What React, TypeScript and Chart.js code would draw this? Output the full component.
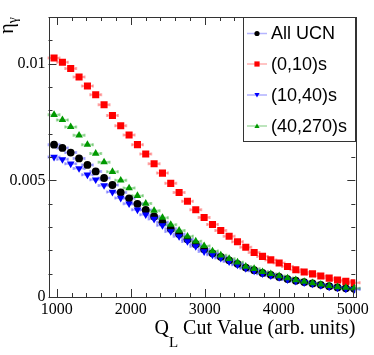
import React, { useEffect, useRef } from 'react';
import { Chart, registerables } from 'chart.js';

Chart.register(...registerables);

// Cut values (x)
const cutValues = [
  964, 1077, 1189, 1302, 1415, 1527, 1640, 1753, 1865, 1978,
  2091, 2203, 2316, 2429, 2541, 2654, 2767, 2879, 2992, 3105,
  3217, 3330, 3443, 3555, 3668, 3781, 3893, 4006, 4119, 4231,
  4344, 4457, 4569, 4682, 4795, 4907, 5020,
];

const allUCN = [
  0.00653, 0.00639, 0.00619, 0.00594, 0.00566, 0.00538, 0.00510, 0.00480, 0.00448, 0.00423,
  0.00399, 0.00373, 0.00345, 0.00320, 0.00293, 0.00270, 0.00247, 0.00226, 0.00205, 0.00187,
  0.00172, 0.00157, 0.00142, 0.00126, 0.00115, 0.00103, 0.00095, 0.00086, 0.00077, 0.00070,
  0.00064, 0.00058, 0.00052, 0.00046, 0.00041, 0.00037, 0.00035,
];

const range0to10 = [
  0.01024, 0.01006, 0.00979, 0.00943, 0.00904, 0.00867, 0.00824, 0.00778, 0.00734, 0.00694,
  0.00653, 0.00613, 0.00571, 0.00531, 0.00487, 0.00448, 0.00410, 0.00374, 0.00341, 0.00311,
  0.00285, 0.00260, 0.00237, 0.00213, 0.00191, 0.00174, 0.00159, 0.00146, 0.00131, 0.00117,
  0.00107, 0.00099, 0.00090, 0.00081, 0.00073, 0.00067, 0.00061,
];

const range10to40 = [
  0.00600, 0.00590, 0.00571, 0.00551, 0.00524, 0.00503, 0.00478, 0.00450, 0.00424, 0.00400,
  0.00374, 0.00353, 0.00334, 0.00307, 0.00281, 0.00260, 0.00238, 0.00217, 0.00195, 0.00181,
  0.00167, 0.00152, 0.00138, 0.00123, 0.00112, 0.00100, 0.00092, 0.00084, 0.00075, 0.00068,
  0.00062, 0.00056, 0.00050, 0.00044, 0.00039, 0.00035, 0.00033,
];

const range40to270 = [
  0.00781, 0.00759, 0.00729, 0.00693, 0.00653, 0.00615, 0.00578, 0.00537, 0.00500, 0.00467,
  0.00434, 0.00401, 0.00370, 0.00340, 0.00310, 0.00285, 0.00260, 0.00239, 0.00219, 0.00197,
  0.00179, 0.00164, 0.00149, 0.00131, 0.00121, 0.00108, 0.00099, 0.00090, 0.00081, 0.00073,
  0.00066, 0.00060, 0.00054, 0.00048, 0.00043, 0.00040, 0.00038,
];

const seriesLabels = ['All UCN', '(0,10)s', '(10,40)s', '(40,270)s'];
const xTickValues = [1000, 2000, 3000, 4000, 5000];
const yTickValues = [0, 0.005, 0.01];

const X_MIN = 889;
const X_MAX = 5035;
const Y_MIN = 0;
const Y_MAX = 0.012;

type Kind = 'circle' | 'rect' | 'tdown' | 'tup';

const seriesStyle: { kind: Kind; color: string; err: string }[] = [
  { kind: 'circle', color: '#000000', err: 'rgba(90,90,255,0.45)' },
  { kind: 'rect', color: '#ff0000', err: 'rgba(255,80,80,0.45)' },
  { kind: 'tdown', color: '#0000ff', err: 'rgba(80,80,255,0.45)' },
  { kind: 'tup', color: '#009900', err: 'rgba(60,180,60,0.45)' },
];

function drawMarker(ctx: CanvasRenderingContext2D, kind: Kind, x: number, y: number, s: number, color: string) {
  ctx.save();
  ctx.fillStyle = color;
  ctx.beginPath();
  if (kind === 'circle') {
    ctx.arc(x, y, s, 0, Math.PI * 2);
  } else if (kind === 'rect') {
    ctx.rect(x - s, y - s, 2 * s, 2 * s);
  } else if (kind === 'tup') {
    ctx.moveTo(x, y - s);
    ctx.lineTo(x + s, y + s * 0.75);
    ctx.lineTo(x - s, y + s * 0.75);
    ctx.closePath();
  } else {
    ctx.moveTo(x, y + s);
    ctx.lineTo(x + s, y - s * 0.75);
    ctx.lineTo(x - s, y - s * 0.75);
    ctx.closePath();
  }
  ctx.fill();
  ctx.restore();
}

const decorPlugin = {
  id: 'decor',
  beforeDatasetsDraw(chart: any) {
    const ctx: CanvasRenderingContext2D = chart.ctx;
    chart.data.datasets.forEach((ds: any, i: number) => {
      const meta = chart.getDatasetMeta(i);
      ctx.save();
      ctx.strokeStyle = seriesStyle[i].err;
      ctx.lineWidth = 2;
      meta.data.forEach((pt: any) => {
        ctx.beginPath();
        ctx.moveTo(pt.x - 5.5, pt.y);
        ctx.lineTo(pt.x + 5.5, pt.y);
        ctx.stroke();
        ctx.beginPath();
        ctx.moveTo(pt.x - 5.5, pt.y - 1.5);
        ctx.lineTo(pt.x - 5.5, pt.y + 1.5);
        ctx.moveTo(pt.x + 5.5, pt.y - 1.5);
        ctx.lineTo(pt.x + 5.5, pt.y + 1.5);
        ctx.stroke();
      });
      ctx.restore();
    });
  },
  afterDraw(chart: any) {
    const ctx: CanvasRenderingContext2D = chart.ctx;
    const { left, right, top, bottom } = chart.chartArea;
    const xs = chart.scales.x;
    const ys = chart.scales.y;
    ctx.save();
    // frame
    ctx.strokeStyle = '#333';
    ctx.lineWidth = 1;
    ctx.strokeRect(Math.round(left) + 0.5, Math.round(top) + 0.5, Math.round(right - left), Math.round(bottom - top));
    // x ticks
    ctx.beginPath();
    for (let v = 1000; v <= 5000; v += 200) {
      const px = Math.round(xs.getPixelForValue(v)) + 0.5;
      const len = v % 1000 === 0 ? 8 : 4;
      ctx.moveTo(px, bottom);
      ctx.lineTo(px, bottom - len);
      ctx.moveTo(px, top);
      ctx.lineTo(px, top + len);
    }
    // y ticks
    for (let k = 0; k <= 12; k++) {
      const v = k * 0.001;
      const py = Math.round(ys.getPixelForValue(v)) + 0.5;
      const len = k % 5 === 0 ? 8 : 4;
      ctx.moveTo(left, py);
      ctx.lineTo(left + len, py);
      ctx.moveTo(right, py);
      ctx.lineTo(right - len, py);
    }
    ctx.stroke();

    // x title: Q_L Cut Value (arb. units)
    ctx.fillStyle = '#000';
    ctx.textBaseline = 'alphabetic';
    ctx.textAlign = 'left';
    const mainFont = '20px "Liberation Serif"';
    const subFont = '15px "Liberation Serif"';
    ctx.font = mainFont;
    const wQ = ctx.measureText('Q').width;
    const rest = ' Cut Value (arb. units)';
    const wRest = ctx.measureText(rest).width;
    ctx.font = subFont;
    const wL = ctx.measureText('L').width;
    const baseY = 334;
    const xStart = right - (wQ + wL + wRest);
    ctx.font = mainFont;
    ctx.fillText('Q', xStart, baseY);
    ctx.font = subFont;
    ctx.fillText('L', xStart + wQ, baseY + 13);
    ctx.font = mainFont;
    ctx.fillText(rest, xStart + wQ + wL, baseY);

    // y title: eta_gamma rotated
    ctx.save();
    ctx.translate(13, top);
    ctx.rotate(-Math.PI / 2);
    ctx.font = mainFont;
    const wEta = ctx.measureText('η').width;
    ctx.font = '14px "Liberation Serif"';
    const wGam = ctx.measureText('γ').width;
    ctx.textAlign = 'left';
    ctx.font = mainFont;
    ctx.fillText('η', -(wEta + wGam), 0);
    ctx.font = '14px "Liberation Serif"';
    ctx.fillText('γ', -wGam, 4);
    ctx.restore();

    // legend
    const lx0 = 243.5, ly0 = 17.5, lx1 = 355.5, ly1 = 141.5;
    ctx.fillStyle = '#fff';
    ctx.fillRect(lx0, ly0, lx1 - lx0, ly1 - ly0);
    ctx.strokeStyle = '#333';
    ctx.lineWidth = 1;
    ctx.strokeRect(lx0, ly0, lx1 - lx0, ly1 - ly0);
    const rowY = [33.5, 64, 95, 126];
    ctx.font = '18px "Liberation Sans"';
    ctx.textBaseline = 'middle';
    seriesLabels.forEach((label, i) => {
      const y = rowY[i];
      ctx.strokeStyle = seriesStyle[i].err;
      ctx.lineWidth = 1.5;
      ctx.beginPath();
      ctx.moveTo(247, y);
      ctx.lineTo(267, y);
      ctx.stroke();
      drawMarker(ctx, seriesStyle[i].kind, 257, y, 2.6, seriesStyle[i].color);
      ctx.fillStyle = '#000';
      ctx.fillText(label, 271, y + 1);
    });
    ctx.restore();
  },
};

function makeData(values: number[]) {
  return cutValues.map((x, i) => ({ x, y: values[i] }));
}

export default function App() {
  const ref = useRef<HTMLCanvasElement>(null);
  useEffect(() => {
    const canvas = ref.current;
    if (!canvas) return;
    const common = { showLine: false, pointBorderWidth: 0 };
    const chart = new Chart(canvas, {
      type: 'scatter',
      data: {
        datasets: [
          { ...common, label: seriesLabels[0], data: makeData(allUCN), order: 3, pointStyle: 'circle', pointRadius: 3.9, backgroundColor: '#000000', borderColor: '#000000' },
          { ...common, label: seriesLabels[1], data: makeData(range0to10), order: 2, pointStyle: 'rect', pointRadius: 5, backgroundColor: '#ff0000', borderColor: '#ff0000' },
          { ...common, label: seriesLabels[2], data: makeData(range10to40), order: 1, pointStyle: 'triangle', rotation: 180, pointRadius: 4.4, backgroundColor: '#0000ff', borderColor: '#0000ff' },
          { ...common, label: seriesLabels[3], data: makeData(range40to270), order: 0, pointStyle: 'triangle', pointRadius: 4.4, backgroundColor: '#009900', borderColor: '#009900' },
        ] as any,
      },
      options: {
        animation: false,
        responsive: false,
        devicePixelRatio: 1,
        layout: { padding: { top: 17, right: 18.7, left: 0, bottom: 0 } },
        plugins: { legend: { display: false }, tooltip: { enabled: false } },
        scales: {
          x: {
            type: 'linear',
            min: X_MIN,
            max: X_MAX,
            grid: { display: false, drawTicks: false },
            border: { display: false },
            afterFit: (s: any) => { s.height = 58; },
            afterBuildTicks: (s: any) => { s.ticks = xTickValues.map((v) => ({ value: v })); },
            ticks: {
              padding: 3,
              autoSkip: false,
              maxRotation: 0,
              color: '#000',
              font: { family: 'Liberation Serif', size: 16 },
              callback: (v: any) => String(v),
            },
          },
          y: {
            type: 'linear',
            min: Y_MIN,
            max: Y_MAX,
            grid: { display: false, drawTicks: false },
            border: { display: false },
            afterFit: (s: any) => { s.width = 48.5; },
            afterBuildTicks: (s: any) => { s.ticks = yTickValues.map((v) => ({ value: v })); },
            ticks: {
              padding: 3,
              color: '#000',
              font: { family: 'Liberation Serif', size: 16 },
              callback: (v: any) => String(+Number(v).toFixed(4)),
            },
          },
        },
      } as any,
      plugins: [decorPlugin],
    });
    return () => chart.destroy();
  }, []);
  return (
    <div style={{ position: 'absolute', left: 0, top: 0, width: 374, height: 355, background: '#fff' }}>
      <canvas ref={ref} width={374} height={355} style={{ display: 'block' }} />
    </div>
  );
}
